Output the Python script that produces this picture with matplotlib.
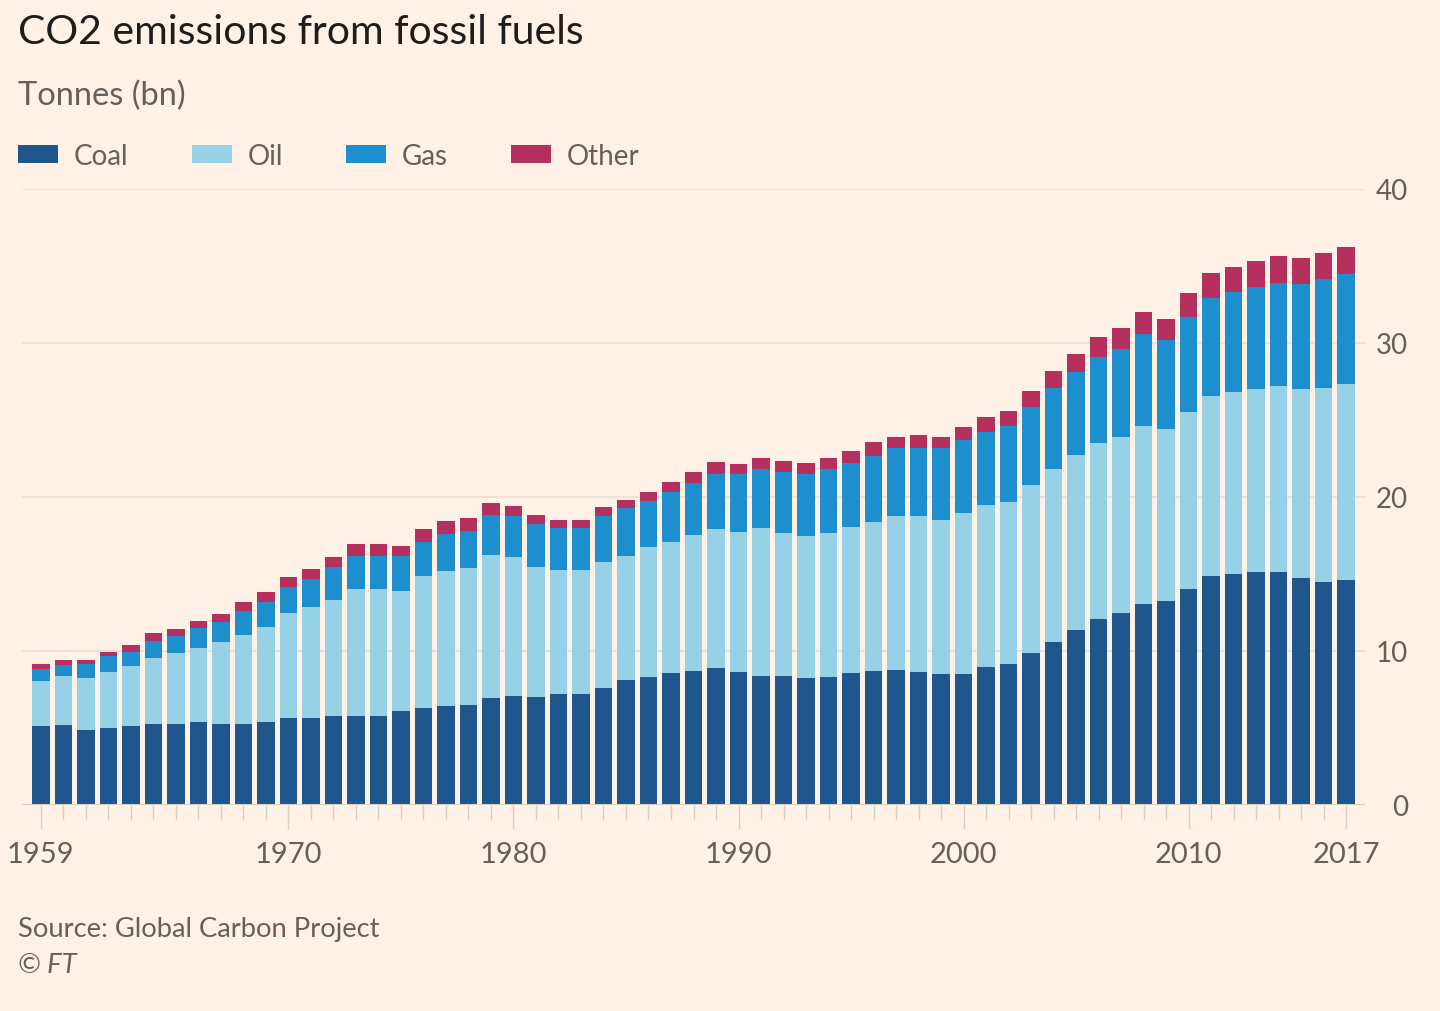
import numpy as np
import matplotlib
matplotlib.use("Agg")
import matplotlib.pyplot as plt

# CO2 emissions from fossil fuels, bn tonnes
YEARS = list(range(1959, 2018))
COAL = [5.13, 5.19, 4.89, 5.02, 5.13, 5.28, 5.28, 5.41, 5.28, 5.28,
        5.41, 5.67, 5.67, 5.80, 5.80, 5.80, 6.12, 6.30, 6.41, 6.49,
        6.93, 7.10, 6.99, 7.21, 7.21, 7.60, 8.12, 8.29, 8.57, 8.72,
        8.90, 8.62, 8.40, 8.40, 8.23, 8.29, 8.57, 8.72, 8.79, 8.62,
        8.51, 8.49, 8.99, 9.14, 9.86, 10.61, 11.39, 12.11, 12.48, 13.06,
        13.23, 14.01, 14.86, 14.98, 15.13, 15.13, 14.73, 14.51, 14.63]
OIL = [2.90, 3.18, 3.35, 3.64, 3.92, 4.27, 4.57, 4.79, 5.28, 5.78,
       6.13, 6.78, 7.17, 7.53, 8.23, 8.23, 7.80, 8.55, 8.81, 8.88,
       9.33, 8.98, 8.44, 8.05, 8.05, 8.16, 8.07, 8.48, 8.49, 8.83,
       9.02, 9.13, 9.57, 9.24, 9.26, 9.35, 9.50, 9.64, 10.00, 10.13,
       10.02, 10.44, 10.49, 10.54, 10.94, 11.19, 11.33, 11.39, 11.39, 11.53,
       11.19, 11.48, 11.68, 11.81, 11.91, 12.09, 12.31, 12.58, 12.71]
GAS = [0.80, 0.72, 0.89, 0.99, 0.91, 1.12, 1.15, 1.27, 1.30, 1.52,
       1.62, 1.68, 1.84, 2.10, 2.16, 2.16, 2.23, 2.21, 2.38, 2.44,
       2.56, 2.67, 2.82, 2.71, 2.71, 2.99, 3.08, 2.99, 3.28, 3.36,
       3.57, 3.74, 3.85, 4.00, 4.00, 4.18, 4.14, 4.32, 4.37, 4.45,
       4.63, 4.74, 4.76, 4.91, 5.07, 5.29, 5.37, 5.59, 5.72, 6.00,
       5.79, 6.22, 6.37, 6.49, 6.57, 6.69, 6.79, 7.07, 7.14]
OTHER = [0.31, 0.33, 0.29, 0.28, 0.40, 0.48, 0.43, 0.46, 0.56, 0.58,
         0.65, 0.70, 0.64, 0.69, 0.74, 0.74, 0.69, 0.86, 0.82, 0.83,
         0.82, 0.69, 0.60, 0.56, 0.56, 0.57, 0.55, 0.54, 0.61, 0.73,
         0.76, 0.63, 0.71, 0.68, 0.72, 0.69, 0.79, 0.87, 0.76, 0.83,
         0.76, 0.87, 0.93, 1.00, 1.00, 1.07, 1.20, 1.32, 1.40, 1.44,
         1.38, 1.52, 1.62, 1.68, 1.72, 1.75, 1.70, 1.67, 1.75]
SERIES = ["Coal", "Oil", "Gas", "Other"]
COLORS = ["#1f578c", "#96d1e6", "#1e8fce", "#b5305f"]
YTICKS = [0, 10, 20, 30, 40]
XLABEL_YEARS = [1959, 1970, 1980, 1990, 2000, 2010, 2017]

BG = "#fff1e5"
GREY = "#66605c"
plt.rcParams["font.family"] = ["Lato", "DejaVu Sans"]

W, H = 1440, 1012
fig = plt.figure(figsize=(W / 100, H / 100), dpi=100, facecolor=BG)
ax = fig.add_axes([22 / W, 1 - 806 / H, (1365 - 22) / W, (806 - 190) / H])
ax.set_facecolor(BG)

x = np.array(YEARS)
bottom = np.zeros(len(YEARS))
handles = []
for name, vals, col in zip(SERIES, [COAL, OIL, GAS, OTHER], COLORS):
    b = ax.bar(x, vals, width=0.78, bottom=bottom, color=col, label=name,
               linewidth=0, zorder=3)
    handles.append(b)
    bottom = bottom + np.array(vals)

ax.set_xlim(1958.16, 2017.84)
ax.set_ylim(0, 40)
for s in ax.spines.values():
    s.set_visible(False)
for v in YTICKS[1:]:
    ax.axhline(v, color="#ebe0d6", lw=1.3, zorder=1)
ax.axhline(0, color="#d8cdc3", lw=1.5, zorder=4)

ax.yaxis.tick_right()
ax.set_yticks(YTICKS)
ax.tick_params(axis="y", length=0, pad=31, labelsize=20, labelcolor=GREY)
for lbl in ax.get_yticklabels():
    lbl.set_horizontalalignment("right")

ax.set_xticks(XLABEL_YEARS)
ax.set_xticks([y for y in YEARS if y not in XLABEL_YEARS], minor=True)
ax.tick_params(axis="x", which="major", length=17, width=1, color="#d9cfc5",
               pad=9, labelsize=21, labelcolor=GREY)
ax.tick_params(axis="x", which="minor", length=11, width=1, color="#d9cfc5")

fig.text(18 / W, 1 - 32 / H, "CO2 emissions from fossil fuels", fontsize=29.5,
         color="#1f1d1c", va="center", ha="left")
fig.text(18 / W, 1 - 96 / H, "Tonnes (bn)", fontsize=23.5, color=GREY,
         va="center", ha="left")

fs = 20
px = fs * 100 / 72
fig.legend(handles=handles, labels=SERIES, loc="center left",
           bbox_to_anchor=(18 / W, 1 - 157 / H), ncol=4, frameon=False,
           fontsize=fs, labelcolor=GREY, borderpad=0, borderaxespad=0,
           handlelength=40 / px, handleheight=18 / px,
           handletextpad=16 / px, columnspacing=63 / px)

fig.text(18 / W, 1 - 930 / H, "Source: Global Carbon Project", fontsize=19.7,
         color=GREY, va="center", ha="left")
fig.text(18 / W, 1 - 966 / H, "© FT", fontsize=19.7, color=GREY,
         va="center", ha="left", style="italic")

fig.savefig("out.png", dpi=100, facecolor=BG)
